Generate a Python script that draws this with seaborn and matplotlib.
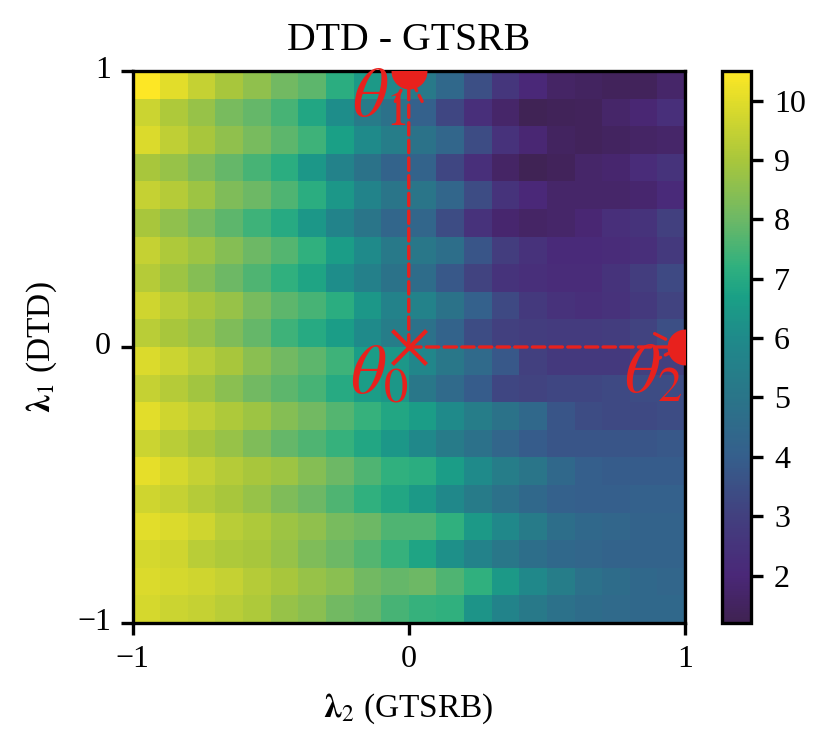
import numpy as np
import matplotlib
matplotlib.use("Agg")
import matplotlib.pyplot as plt
from matplotlib.colors import LinearSegmentedColormap
import seaborn as sns

title = "DTD - GTSRB"
xlabel = r"$\boldsymbol{\lambda}_2$ (GTSRB)"
ylabel = r"$\boldsymbol{\lambda}_1$ (DTD)"
tick_labels_x = ["\u22121", "0", "1"]
tick_labels_y = ["1", "0", "\u22121"]
cbar_ticks = [2, 3, 4, 5, 6, 7, 8, 9, 10]
value_min = 1.2
value_max = 10.5

# colour scale (a muted viridis)
scale_values = [1.2, 2.0, 3.0, 4.0, 5.0, 6.0, 6.7, 7.2, 8.0, 9.0, 10.0, 10.5]
scale_colors = ["#3f2252", "#4a2878", "#42407f", "#355f8c", "#2a7589", "#1f8a8a",
                "#1aa086", "#2fb07f", "#6cb866", "#a8c63c", "#e0dc2a", "#fde725"]

row_00 = [10.5,10.0,9.5,9.0,8.6,8.1,7.8,7.1,6.5,5.9, 5.2,4.4,3.5,2.6,2.0,1.6,1.5,1.4,1.4,1.7]
row_01 = [9.6,9.1,8.7,8.2,7.9,7.5,6.9,6.1,5.3,4.8, 4.1,3.2,2.3,1.7,1.3,1.35,1.4,1.7,1.9,2.3]
row_02 = [9.9,9.4,9.0,8.6,8.2,7.8,7.4,6.7,6.0,5.4, 4.9,4.3,3.4,2.4,1.9,1.5,1.4,1.5,1.6,1.7]
row_03 = [9.0,8.7,8.3,7.9,7.5,7.1,6.4,5.6,4.9,4.2, 4.2,3.2,2.3,1.6,1.3,1.4,1.7,1.8,2.2,2.5]
row_04 = [9.5,9.2,8.8,8.3,8.0,7.6,7.1,6.4,5.7,5.0, 5.0,4.3,3.4,2.5,2.0,1.7,1.7,1.7,1.8,2.1]
row_05 = [9.0,8.6,8.2,7.8,7.4,7.0,6.4,5.7,5.0,4.3, 4.3,3.4,2.4,1.8,1.6,1.7,1.9,2.3,2.5,3.0]
row_06 = [9.5,9.1,8.8,8.4,8.0,7.7,7.2,6.6,6.0,5.2, 5.1,4.7,3.7,2.9,2.4,2.1,2.1,2.2,2.3,2.7]
row_07 = [9.2,8.8,8.4,8.0,7.6,7.2,6.8,6.1,5.5,4.9, 4.6,3.8,3.1,2.5,2.3,2.2,2.2,2.5,2.9,3.3]
row_08 = [9.7,9.3,9.0,8.7,8.2,7.8,7.5,7.1,6.4,5.6, 5.6,4.9,4.1,3.3,2.7,2.4,2.3,2.4,2.7,3.1]
row_09 = [9.3,9.0,8.7,8.3,7.9,7.4,7.0,6.6,6.0,5.4, 4.8,4.2,3.4,3.0,2.9,2.8,2.8,2.9,3.1,3.5]
row_10 = [9.9,9.6,9.3,9.0,8.5,8.1,7.8,7.4,6.6,6.4, 5.8,5.1,4.5,3.8,3.0,2.7,2.7,2.7,3.0,3.0]
row_11 = [9.5,9.2,8.9,8.5,8.1,7.8,7.5,7.0,6.6,6.4, 5.1,4.5,3.9,3.2,3.1,3.2,3.2,3.3,3.4,3.4]
row_12 = [10.0,9.7,9.4,9.1,8.8,8.4,8.1,7.7,7.3,6.9, 6.6,6.0,5.4,4.9,4.4,3.7,3.4,3.3,3.3,3.4]
row_13 = [9.6,9.3,9.0,8.7,8.3,7.9,7.6,7.3,6.9,6.4, 5.9,5.3,4.8,4.3,3.9,3.7,3.7,3.7,3.7,3.8]
row_14 = [10.1,9.8,9.5,9.2,9.0,8.8,8.4,8.0,7.6,7.2, 7.1,6.6,6.0,5.4,5.0,4.4,4.0,3.9,3.9,3.9]
row_15 = [9.7,9.5,9.2,9.0,8.7,8.3,8.0,7.6,7.2,6.9, 6.5,5.9,5.3,4.8,4.4,4.1,4.0,4.0,4.1,4.1]
row_16 = [10.0,9.9,9.7,9.3,9.1,8.8,8.6,8.2,8.0,7.6, 7.6,7.2,6.5,5.9,5.3,4.7,4.4,4.3,4.2,4.2]
row_17 = [9.8,9.7,9.3,9.1,9.0,8.7,8.3,8.0,7.7,7.3, 6.8,6.2,5.6,5.1,4.7,4.4,4.3,4.2,4.2,4.2]
row_18 = [9.9,9.8,9.7,9.5,9.2,9.0,8.7,8.5,8.1,7.9, 8.0,7.6,7.2,6.5,5.9,5.4,4.8,4.6,4.4,4.3]
row_19 = [9.8,9.6,9.5,9.3,9.1,8.7,8.5,8.1,7.9,7.5, 7.3,7.2,6.3,5.7,5.2,4.8,4.6,4.5,4.4,4.4]

values = np.array([row_00,row_01,row_02,row_03,row_04,row_05,row_06,row_07,row_08,row_09,
                   row_10,row_11,row_12,row_13,row_14,row_15,row_16,row_17,row_18,row_19])

RED = "#e8211d"
sns.set_theme(style="white")
plt.rcParams["font.family"] = ["Liberation Serif", "DejaVu Serif"]
plt.rcParams["mathtext.fontset"] = "stix"

stops = [(v - value_min) / (value_max - value_min) for v in scale_values]
cmap = LinearSegmentedColormap.from_list("muted_viridis", list(zip(stops, scale_colors)), N=256)

W, H = 830, 751
fig = plt.figure(figsize=(W/200, H/200), dpi=200)
ax = fig.add_axes([132.5/W, (H-623)/H, 552.5/W, 552/H])
cax = fig.add_axes([722/W, (H-623)/H, 29/W, 552/H])

sns.heatmap(values, ax=ax, cbar_ax=cax, cmap=cmap, vmin=value_min, vmax=value_max,
            square=False, linewidths=0)

n = values.shape[0]
mid = n/2
ax.set_xticks([0, mid, n])
ax.set_xticklabels(tick_labels_x, rotation=0, fontsize=11.5)
ax.set_yticks([0, mid, n])
ax.set_yticklabels(tick_labels_y, rotation=0, fontsize=11.5)
ax.tick_params(axis="both", bottom=True, left=True, length=4.3, width=1.2, color="black",
               labelcolor="black", pad=3.5)
for s in ax.spines.values():
    s.set_visible(True)
    s.set_color("black")
    s.set_linewidth(1.2)
ax.set_xlabel(xlabel, fontsize=12, color="black", labelpad=6.5)
ax.set_ylabel(ylabel, fontsize=12, color="black", labelpad=6.5)
ax.set_title(title, fontsize=14.3, color="black", pad=7.5)

cb = ax.collections[0].colorbar
cb.set_ticks(cbar_ticks)
cb.set_ticklabels([str(t) for t in cbar_ticks])
cb.ax.tick_params(labelsize=11.5, right=True, length=4.3, width=1.2, color="black", labelcolor="black", pad=4)
cb.outline.set_visible(True)
cb.outline.set_linewidth(1.2)
cb.outline.set_edgecolor("black")

# model endpoints (theta_1 top, theta_2 right) and origin theta_0
ax.scatter([mid, n], [0, mid], s=167, color=RED, zorder=5, linewidths=0)
ax.scatter([mid], [mid], s=150, marker="x", color=RED, linewidths=1.5, zorder=5)
for end in [(mid, 0), (n, mid)]:
    ax.annotate("", xy=end, xytext=(mid, mid),
                arrowprops=dict(arrowstyle="->", color=RED, linestyle="--", linewidth=1.2,
                                shrinkA=0, shrinkB=0, mutation_scale=24), zorder=6)

for label, pt, off in [(r"$\theta_0$", (mid, mid), (-10.8, -10.5)),
                       (r"$\theta_1$", (mid, 0), (-10.8, -10.5)),
                       (r"$\theta_2$", (n, mid), (-11.3, -10.5))]:
    ax.annotate(label, xy=pt, xytext=off, textcoords="offset points",
                fontsize=25, color=RED, ha="center", va="center", zorder=7)

fig.savefig("out.png", dpi=200)
